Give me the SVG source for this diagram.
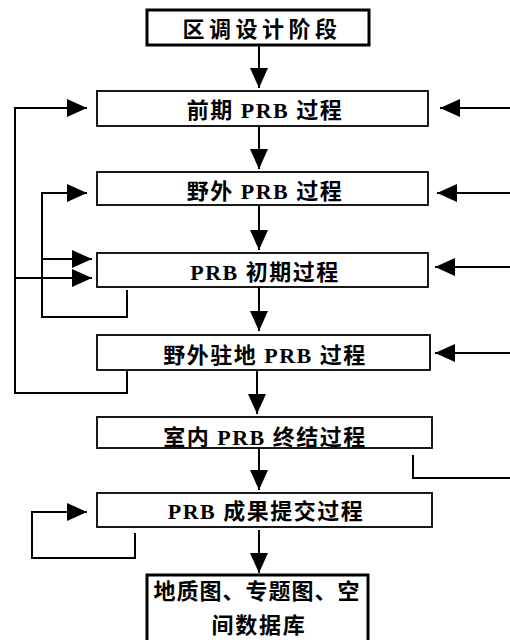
<svg xmlns="http://www.w3.org/2000/svg" width="510" height="640" viewBox="0 0 510 640">
<style>
.box{fill:#fff;stroke:#000;stroke-width:1.8}
.tbox{fill:#fff;stroke:#000;stroke-width:3}
.t{font-family:"Liberation Serif","Noto Sans CJK SC",serif;font-weight:bold;font-size:22px;fill:#000;text-anchor:middle;letter-spacing:1.5px}
.c{fill:none;stroke:#000;stroke-width:2}
</style>
<defs>
<marker id="ah" markerUnits="userSpaceOnUse" markerWidth="20" markerHeight="18" refX="20" refY="9" orient="auto">
<path d="M0,0 L20,9 L0,18 z" fill="#000"/>
</marker>
</defs>
<rect width="510" height="640" fill="#fff"/>
<g id="connectors">
<path class="c" d="M259,45 V88" marker-end="url(#ah)"/>
<path class="c" d="M259,126 V169" marker-end="url(#ah)"/>
<path class="c" d="M259,205 V250" marker-end="url(#ah)"/>
<path class="c" d="M259,287 V331" marker-end="url(#ah)"/>
<path class="c" d="M257,370 V414" marker-end="url(#ah)"/>
<path class="c" d="M259,448 V490" marker-end="url(#ah)"/>
<path class="c" d="M259,530 V573" marker-end="url(#ah)"/>
<path class="c" d="M127,370 V393 H15 V108 H87" marker-end="url(#ah)"/>
<path class="c" d="M15,278 H92" marker-end="url(#ah)"/>
<path class="c" d="M127,290 V317 H42 V193 H87" marker-end="url(#ah)"/>
<path class="c" d="M42,259 H92" marker-end="url(#ah)"/>
<path class="c" d="M135,533 V558 H32 V512 H87" marker-end="url(#ah)"/>
<path class="c" d="M510,108 H440" marker-end="url(#ah)"/>
<path class="c" d="M510,193 H437" marker-end="url(#ah)"/>
<path class="c" d="M510,267 H435" marker-end="url(#ah)"/>
<path class="c" d="M510,353 H435" marker-end="url(#ah)"/>
<path class="c" d="M413,455 V478 H510"/>
</g>
<g id="n1"><rect class="tbox" x="147" y="10" width="222" height="35"/><text class="t" x="262" y="37" style="letter-spacing:4.5px">区调设计阶段</text></g>
<g id="n2"><rect class="box" x="97" y="91" width="331" height="35"/><text class="t" x="265" y="118">前期 PRB 过程</text></g>
<g id="n3"><rect class="box" x="97" y="172" width="331" height="33"/><text class="t" x="265" y="199">野外 PRB 过程</text></g>
<g id="n4"><rect class="box" x="97" y="253" width="331" height="34"/><text class="t" x="265" y="280">PRB 初期过程</text></g>
<g id="n5"><rect class="box" x="97" y="335" width="333" height="35"/><text class="t" x="265" y="363">野外驻地 PRB 过程</text></g>
<g id="n6"><rect class="box" x="97" y="417" width="335" height="31"/><text class="t" x="265" y="445">室内 PRB 终结过程</text></g>
<g id="n7"><rect class="box" x="97" y="493" width="335" height="34"/><text class="t" x="266" y="519">PRB 成果提交过程</text></g>
<g id="n8"><rect class="tbox" x="147" y="575" width="221" height="80"/><text class="t" x="257" y="599" style="letter-spacing:1px">地质图、专题图、空</text><text class="t" x="259" y="633" style="letter-spacing:1.7px">间数据库</text></g>
</svg>
